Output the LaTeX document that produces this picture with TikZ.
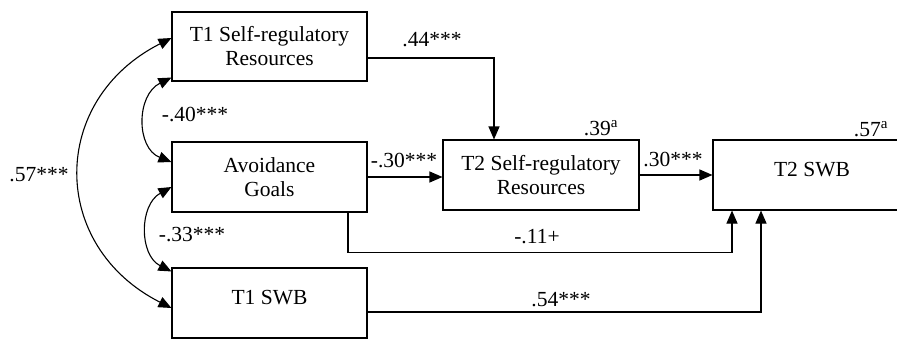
\documentclass[tikz,border=0pt]{standalone}
\usepackage{fontspec}
\setmainfont{Liberation Serif}
\usetikzlibrary{arrows.meta}
\begin{document}
\begin{tikzpicture}[x=1pt,y=-1pt,
  box/.style={draw, line width=1.1pt, minimum width=195pt, minimum height=70pt, align=center, inner sep=0pt,
    font=\fontsize{21.5}{24}\selectfont},
  lbl/.style={font=\fontsize{21.5}{24}\selectfont, inner sep=0pt},
  arr/.style={line width=1.1pt, -{Triangle[length=13pt,width=11pt]}},
  dbl/.style={line width=1.1pt, {Triangle[length=13pt,width=11pt]}-{Triangle[length=13pt,width=11pt]}}]
\useasboundingbox (0,0) rectangle (897,340);
\clip (0,0) rectangle (897,340);
\node[box, minimum height=69pt] (t1sr) at (269.5,46.5) {T1 Self-regulatory\\Resources};
\node[box] (avoid) at (269.5,177) {Avoidance\\Goals};
\node[box, text depth=12pt] (t1swb) at (269.5,303) {T1 SWB};
\node[box, minimum width=196pt] (t2sr) at (541,175) {T2 Self-regulatory\\Resources};
\node[box, minimum width=198pt, text depth=12pt] (t2swb) at (812,175) {T2 SWB};

\draw[arr] ([yshift=-11.5pt]t1sr.east) -| ([xshift=-47pt]t2sr.north);
\draw[arr] (avoid.east) -- (avoid.east -| t2sr.west);
\draw[arr] (t2sr.east) -- (t2swb.west);
\draw[arr] ([xshift=78.5pt]avoid.south) -- ++(0,40) -| ([xshift=-80pt]t2swb.south);
\draw[arr] ([yshift=-9pt]t1swb.east) -| ([xshift=-51pt]t2swb.south);

\draw[dbl] ([yshift=8.5pt]t1sr.west) .. controls (49,100) and (49,246) .. ([yshift=-5pt]t1swb.west);
\draw[dbl] ([yshift=4pt]t1sr.south west) .. controls (136,95) and (136,148) .. ([yshift=15pt]avoid.west);
\draw[dbl] ([yshift=-10pt]avoid.west) .. controls (139,205) and (139,255) .. ([yshift=-4pt]t1swb.north west);

\node[lbl] (l44) at (432,40) {.44***};
\node[lbl] (l30a) at (404,161) {-.30***};
\node[lbl] (l30b) at (673,160) {.30***};
\node[lbl] (l39) at (601,128) {.39\textsuperscript{a}};
\node[lbl] (l57a) at (871,129) {.57\textsuperscript{a}};
\node[lbl] (l11) at (537,237) {-.11+};
\node[lbl] (l54) at (561,300) {.54***};
\node[lbl] (l57) at (39,175) {.57***};
\node[lbl] (l40) at (195,115) {-.40***};
\node[lbl] (l33) at (192,235) {-.33***};
\end{tikzpicture}
\end{document}
